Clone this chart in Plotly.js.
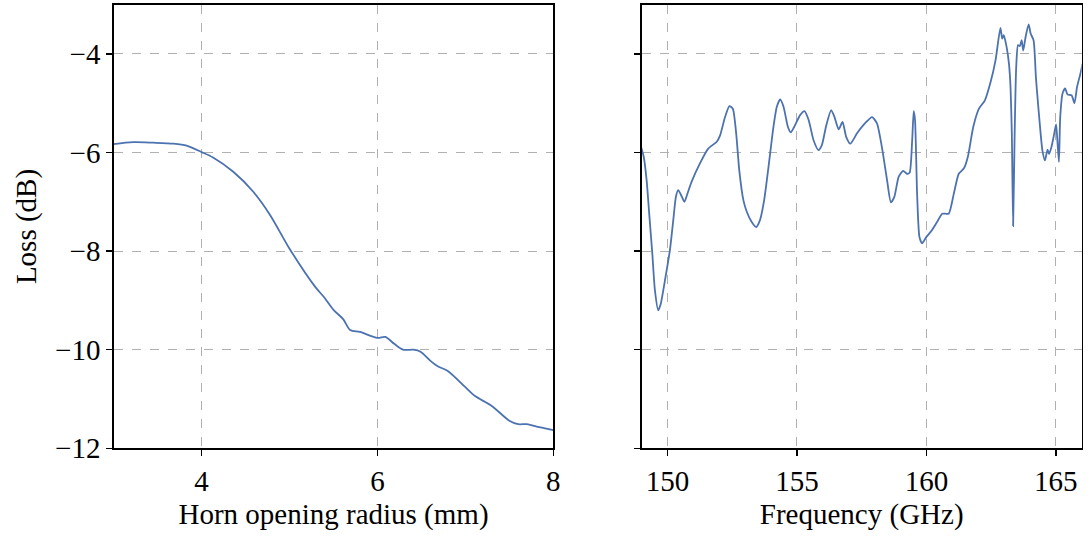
<!DOCTYPE html>
<html>
<head>
<meta charset="utf-8">
<script src="https://cdn.plot.ly/plotly-3.0.1.min.js"></script>
<style>html,body{margin:0;padding:0;background:#fff;}#chart{width:1091px;height:539px;}</style>
</head>
<body>
<div id="chart"></div>
<script>
// Left panel: loss vs horn opening radius
const radiusMm = [3.0, 3.22, 3.45, 3.68, 3.83, 4.0, 4.13, 4.36, 4.59, 4.78, 5.0, 5.29, 5.40, 5.50, 5.61, 5.69, 5.80, 6.0, 6.09, 6.19, 6.29, 6.41, 6.49, 6.60, 6.69, 6.80, 7.0, 7.11, 7.30, 7.50, 7.60, 7.70, 7.81, 7.92, 8.0];
const lossRadius = [-5.83, -5.79, -5.80, -5.82, -5.86, -5.99, -6.10, -6.39, -6.80, -7.27, -7.95, -8.72, -8.95, -9.19, -9.38, -9.60, -9.64, -9.76, -9.74, -9.88, -10.0, -10.0, -10.04, -10.22, -10.34, -10.43, -10.76, -10.94, -11.14, -11.44, -11.51, -11.51, -11.56, -11.60, -11.63];

// Right panel: loss vs frequency
const freqGHz = [148.98, 149.08, 149.19, 149.29, 149.41, 149.51, 149.64, 149.74, 149.90, 150.09, 150.22, 150.32, 150.41, 150.52, 150.65, 150.77, 150.93, 151.25, 151.57, 151.90, 152.03, 152.22, 152.39, 152.52, 152.65, 152.77, 152.93, 153.06, 153.25, 153.42, 153.57, 153.73, 153.90, 154.09, 154.22, 154.35, 154.48, 154.65, 154.76, 154.89, 155.12, 155.29, 155.45, 155.64, 155.83, 155.96, 156.13, 156.32, 156.45, 156.61, 156.76, 156.90, 157.06, 157.32, 157.64, 157.90, 158.09, 158.28, 158.48, 158.63, 158.76, 158.93, 159.10, 159.25, 159.35, 159.45, 159.51, 159.56, 159.64, 159.73, 159.83, 160.0, 160.22, 160.41, 160.61, 160.86, 161.06, 161.25, 161.45, 161.60, 161.81, 162.03, 162.26, 162.48, 162.67, 162.86, 162.93, 162.99, 163.10, 163.19, 163.25, 163.30, 163.35, 163.41, 163.47, 163.54, 163.61, 163.68, 163.74, 163.83, 163.95, 164.03, 164.14, 164.23, 164.28, 164.39, 164.48, 164.58, 164.68, 164.74, 164.83, 164.94, 165.01, 165.06, 165.12, 165.17, 165.26, 165.36, 165.45, 165.61, 165.72, 165.82, 165.95, 166.03];
const lossFreq = [-5.89, -6.09, -6.56, -7.24, -8.05, -8.79, -9.20, -9.06, -8.59, -7.98, -7.37, -6.90, -6.76, -6.86, -7.0, -6.83, -6.59, -6.22, -5.92, -5.78, -5.65, -5.28, -5.06, -5.11, -5.61, -6.36, -6.97, -7.20, -7.41, -7.51, -7.37, -6.97, -6.29, -5.48, -5.07, -4.92, -5.07, -5.48, -5.59, -5.48, -5.24, -5.16, -5.34, -5.75, -5.95, -5.85, -5.45, -5.14, -5.28, -5.53, -5.38, -5.68, -5.82, -5.61, -5.40, -5.28, -5.41, -5.89, -6.56, -7.01, -6.90, -6.49, -6.37, -6.43, -6.41, -5.75, -5.16, -5.34, -6.83, -7.71, -7.84, -7.71, -7.57, -7.41, -7.24, -7.24, -6.83, -6.43, -6.32, -6.09, -5.48, -5.11, -4.94, -4.57, -4.13, -3.47, -3.69, -3.62, -3.86, -4.20, -4.67, -5.61, -7.49, -5.61, -4.26, -3.82, -3.84, -3.72, -3.93, -3.66, -3.40, -3.59, -3.72, -4.47, -4.80, -5.48, -5.95, -6.16, -5.94, -6.03, -5.89, -5.61, -5.43, -5.75, -6.19, -5.28, -4.80, -4.70, -4.82, -4.84, -5.0, -4.67, -4.40, -4.20];

const yTicks = [-12, -10, -8, -6, -4];
const xTicksLeft = [4, 6, 8];
const xTicksRight = [150, 155, 160, 165];

const lineColor = '#4c72b0';
const serif = 'Liberation Serif, Times New Roman, serif';

const traces = [
  {x: radiusMm, y: lossRadius, type: 'scatter', mode: 'lines', xaxis: 'x', yaxis: 'y',
   line: {color: lineColor, width: 1.8, shape: 'spline', smoothing: 0.8}, hoverinfo: 'skip'},
  {x: freqGHz, y: lossFreq, type: 'scatter', mode: 'lines', xaxis: 'x2', yaxis: 'y2',
   line: {color: lineColor, width: 1.8, shape: 'spline', smoothing: 0.6}, hoverinfo: 'skip'}
];

const axisCommon = {
  showline: true, mirror: true, linecolor: '#000', linewidth: 1.5,
  ticks: 'outside', ticklen: 6, tickwidth: 1.5, tickcolor: '#000',
  showgrid: true, gridcolor: '#b0b0b0', griddash: 'dash', gridwidth: 1,
  zeroline: false,
  tickfont: {family: serif, size: 29, color: '#000'}
};

const layout = {
  width: 1091, height: 539,
  margin: {l: 0, r: 0, t: 0, b: 0},
  paper_bgcolor: '#fff', plot_bgcolor: '#fff',
  showlegend: false,
  font: {family: serif, color: '#000'},
  xaxis: Object.assign({}, axisCommon, {
    domain: [113.7/1091, 553.3/1091], range: [3, 8],
    tickvals: xTicksLeft, ticktext: xTicksLeft.map(String),
    title: {text: 'Horn opening radius (mm)', font: {family: serif, size: 29, color: '#000'}, standoff: 8}
  }),
  yaxis: Object.assign({}, axisCommon, {
    domain: [1 - 448.3/539, 1 - 4.7/539], range: [-12, -3],
    tickvals: yTicks, ticktext: yTicks.map(v => '\u2212' + Math.abs(v)),
    title: {text: 'Loss (dB)', font: {family: serif, size: 29, color: '#000'}, standoff: 10}
  }),
  xaxis2: Object.assign({}, axisCommon, {
    domain: [641.7/1091, 1081.7/1091], range: [149, 166], anchor: 'y2',
    tickvals: xTicksRight, ticktext: xTicksRight.map(String),
    title: {text: 'Frequency (GHz)', font: {family: serif, size: 29, color: '#000'}, standoff: 8}
  }),
  yaxis2: Object.assign({}, axisCommon, {
    domain: [1 - 448.3/539, 1 - 4.7/539], range: [-12, -3], anchor: 'x2',
    tickvals: yTicks, showticklabels: false
  })
};

Plotly.newPlot('chart', traces, layout, {staticPlot: true, displayModeBar: false});
</script>
</body>
</html>
